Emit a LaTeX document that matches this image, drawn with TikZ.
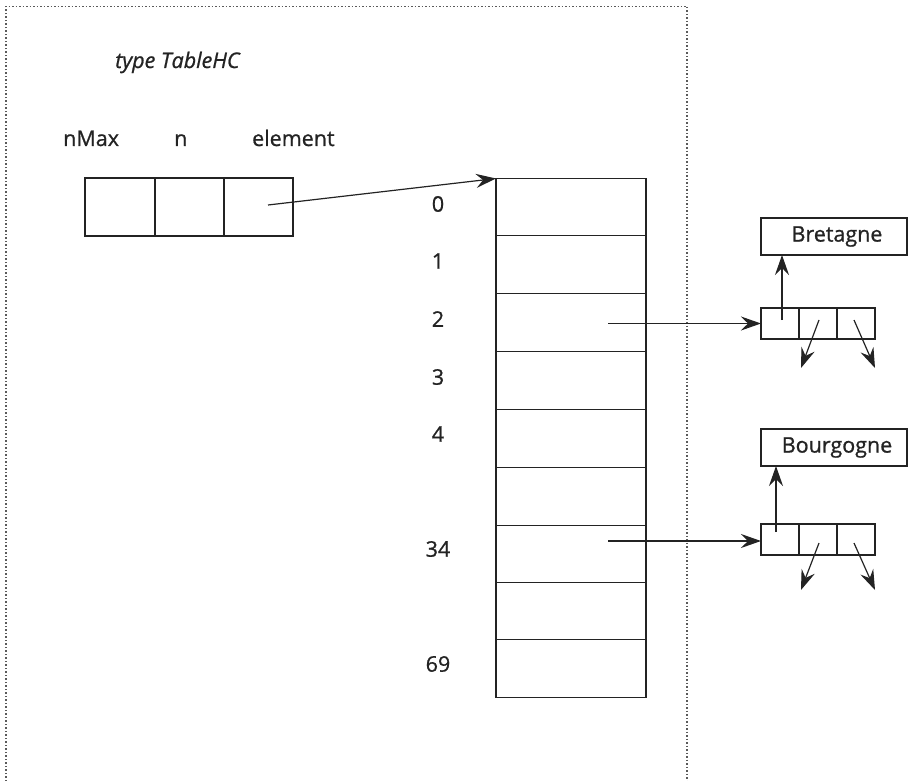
\documentclass[tikz,border=0pt]{standalone}
\usepackage{fontspec}
\setmainfont{Open Sans}[FakeBold=0.9]
\usetikzlibrary{arrows.meta,calc}
\definecolor{ink}{HTML}{232323}
\tikzset{
  cellbox/.style={draw=ink, line width=1.5pt, inner sep=0pt, outer sep=0pt},
  rowbox/.style={cellbox, minimum width=150pt},
  topcell/.style={cellbox, minimum height=58pt},
  lcell/.style={cellbox, minimum width=38pt, minimum height=31pt},
  namebox/.style={cellbox, minimum width=146pt, minimum height=37pt, font=\fontsize{21.5}{25}\selectfont, text=ink},
  lbl/.style={font=\fontsize{21.5}{25}\selectfont, text=ink, inner sep=0pt},
  ptr/.style={draw=ink, line width=1.2pt, -{Stealth[length=20pt,width=14pt,inset=7pt]}},
  frame/.style={draw=ink!75, line width=1.3pt, dash pattern=on 1.5pt off 2pt},
}
\begin{document}
\begin{tikzpicture}[x=1pt,y=-1pt]
\useasboundingbox (0,0) rectangle (908,781);
% dotted frame
\draw[frame] (6,781) -- (6,6.5) -- (687,6.5) -- (687,781);
% title and field names
\node[lbl, anchor=base west, font=\fontsize{21.5}{25}\itshape] (title) at (115,68) {type TableHC};
\node[lbl, anchor=base west] (fnmax) at (63,146) {nMax};
\node[lbl, anchor=base west] (fn) at (174,146) {n};
\node[lbl, anchor=base west] (felem) at (252,146) {element};
% record cells
\node[topcell, minimum width=70pt] (c1) at (120,207) {};
\node[topcell, minimum width=69pt] (c2) at (189.5,207) {};
\node[topcell, minimum width=69pt] (c3) at (258.5,207) {};
% table rows (top and bottom edges)
\foreach \i/\t/\b in {0/178.5/235.5, 1/235.5/293.5, 2/293.5/351.5, 3/351.5/409.5, 4/409.5/467.5, 5/467.5/525.5, 6/525.5/582.5, 7/582.5/639.5, 8/639.5/697.5} {
  \node[rowbox, minimum height={\b-\t}] (r\i) at (571,{(\t+\b)/2}) {};
}
% index labels
\node[lbl] (l0) at (438,204) {0};
\node[lbl] (l1) at (438,261) {1};
\node[lbl] (l2) at (438,319) {2};
\node[lbl] (l3) at (438,377) {3};
\node[lbl] (l4) at (438,434) {4};
\node[lbl] (l34) at (438,549) {34};
\node[lbl] (l69) at (438,664) {69};
% list nodes
\node[namebox] (brt) at (834,236.5) {\hspace*{6pt}Bretagne};
\node[lcell] (a1) at (780,323.5) {};
\node[lcell] (b1) at (818,323.5) {};
\node[lcell] (d1) at (856,323.5) {};
\node[namebox] (bgg) at (834,447.5) {\hspace*{6pt}Bourgogne};
\node[lcell] (a2) at (780,539.5) {};
\node[lcell] (b2) at (818,539.5) {};
\node[lcell] (d2) at (856,539.5) {};
% pointer start and free-end coordinates
\coordinate (s0) at (268,205);
\coordinate (s2) at (608,323.5);
\coordinate (s34) at (608,541);
\coordinate (u1) at (782,320);
\coordinate (u2) at (776,532);
\coordinate (p1) at (819,320);
\coordinate (q1) at (801,368);
\coordinate (p2) at (854,320);
\coordinate (q2) at (875,368);
\coordinate (p3) at (819,543);
\coordinate (q3) at (801,590);
\coordinate (p4) at (854,543);
\coordinate (q4) at (875,590);
% connectors
\draw[ptr] (s0) -- (r0.north west);
\draw[ptr] (s2) -- (a1.west);
\draw[ptr] (s34) -- (a2.west |- s34);
\draw[ptr] (u1) -- (u1 |- brt.south);
\draw[ptr] (u2) -- (u2 |- bgg.south);
\draw[ptr] (p1) -- (q1);
\draw[ptr] (p2) -- (q2);
\draw[ptr] (p3) -- (q3);
\draw[ptr] (p4) -- (q4);
\end{tikzpicture}
\end{document}
